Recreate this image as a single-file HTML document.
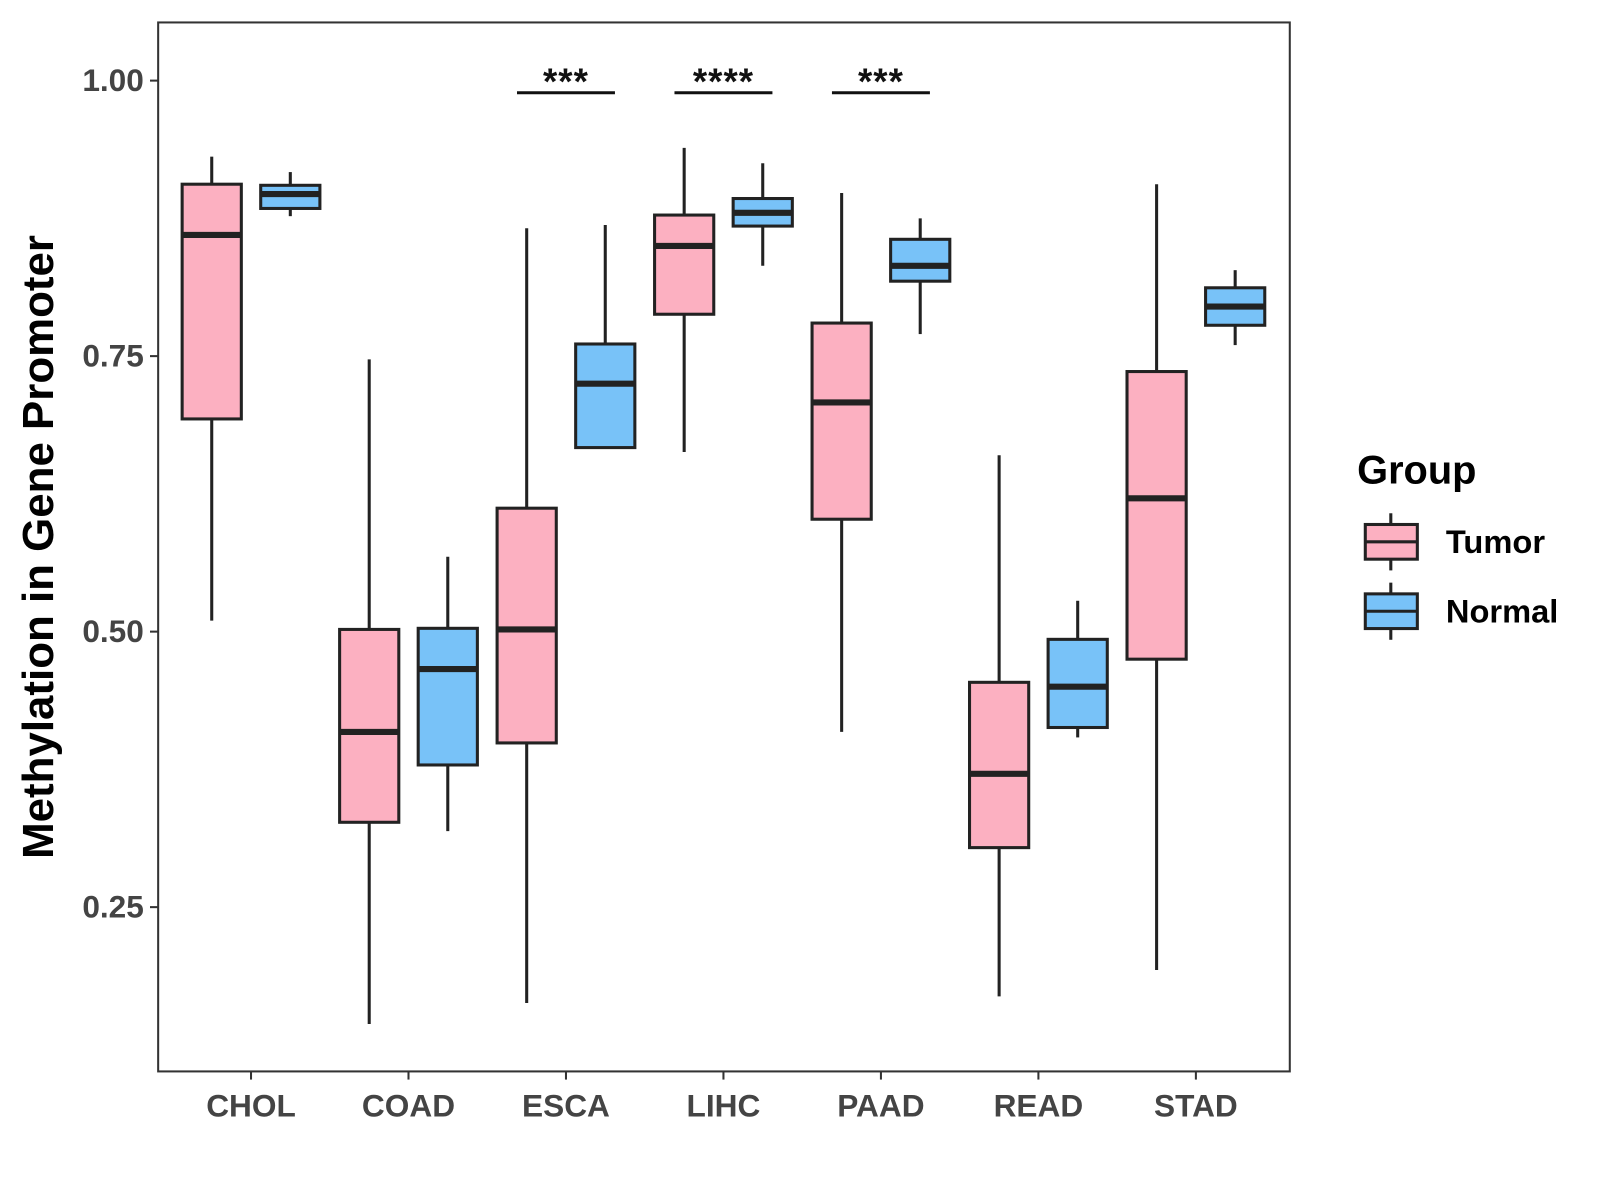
<!DOCTYPE html>
<html><head><meta charset="utf-8"><style>
html,body{margin:0;padding:0;background:#fff;}
svg{display:block;font-family:"Liberation Sans",Arial,sans-serif;}
</style></head><body>
<svg id="chart" width="1600" height="1200" viewBox="0 0 1600 1200" xmlns="http://www.w3.org/2000/svg">
<rect width="1600" height="1200" fill="#fff"/>
<g id="plot" transform="scale(1.0204)"></g>
</svg>
<script>
const categories = ["CHOL","COAD","ESCA","LIHC","PAAD","READ","STAD"];
// [low, q1, median, q3, high]
const tumorStats = [
 [0.510,0.693,0.860,0.906,0.931],
 [0.144,0.327,0.409,0.502,0.747],
 [0.163,0.399,0.502,0.612,0.866],
 [0.663,0.788,0.850,0.878,0.939],
 [0.409,0.602,0.708,0.780,0.898],
 [0.169,0.304,0.371,0.454,0.660],
 [0.193,0.475,0.621,0.736,0.906]
];
const normalStats = [
 [0.877,0.884,0.897,0.905,0.917],
 [0.319,0.379,0.466,0.503,0.568],
 [0.667,0.667,0.725,0.761,0.869],
 [0.832,0.868,0.880,0.893,0.925],
 [0.770,0.818,0.832,0.856,0.875],
 [0.404,0.413,0.450,0.493,0.528],
 [0.760,0.778,0.795,0.812,0.828]
];
const yTicks = [0.25,0.50,0.75,1.00];
const yTickLabels = ["0.25","0.50","0.75","1.00"];
const sigCategories = ["ESCA","LIHC","PAAD"];
const sigLabels = ["***","****","***"];
const sigLevel = 0.989;

const NS="http://www.w3.org/2000/svg";
const g=document.getElementById('plot');
const L=155,R=1264,T=22,B=1050;
const y=v=>79+(1-v)*1080;
const x=i=>246+i*154.33;
function el(tag,attrs,parent){const e=document.createElementNS(NS,tag);for(const k in attrs)e.setAttribute(k,attrs[k]);(parent||g).appendChild(e);return e;}

const panel=el('rect',{x:L,y:T,width:R-L,height:B-T,fill:'none',stroke:'#333','stroke-width':2});



yTicks.forEach((t,i)=>{
  const tk=el('line',{x1:L-8,x2:L,y1:y(t),y2:y(t),stroke:'#333','stroke-width':2});
  
  
  const tx=el('text',{x:L-14,y:y(t)+10,'text-anchor':'end','font-size':31,'font-weight':'bold',fill:'#444'});
  tx.textContent=yTickLabels[i];
  
  
});
categories.forEach((c,i)=>{
  const tk=el('line',{x1:x(i),x2:x(i),y1:B,y2:B+8,stroke:'#333','stroke-width':2});
  
  
  const tx=el('text',{x:x(i),y:B+44,'text-anchor':'middle','font-size':31,'font-weight':'bold',fill:'#444'});
  tx.textContent=c;
  
  
});

function box(cx,s,fill,name){
  const grp=el('g',{});
  
  
  const w=58;
  el('line',{x1:cx,x2:cx,y1:y(s[4]),y2:y(s[3]),stroke:'#222','stroke-width':3},grp);
  el('line',{x1:cx,x2:cx,y1:y(s[1]),y2:y(s[0]),stroke:'#222','stroke-width':3},grp);
  el('rect',{x:cx-w/2,y:y(s[3]),width:w,height:Math.max(y(s[1])-y(s[3]),0.1),fill:fill,stroke:'#222','stroke-width':3},grp);
  el('line',{x1:cx-w/2,x2:cx+w/2,y1:y(s[2]),y2:y(s[2]),stroke:'#222','stroke-width':6},grp);
}
categories.forEach((c,i)=>{
  box(x(i)-38.5,tumorStats[i],'#FCB0C1','box-tumor-'+c.toLowerCase());
  box(x(i)+38.5,normalStats[i],'#78C2F8','box-normal-'+c.toLowerCase());
});

sigCategories.forEach((c,j)=>{
  const i=categories.indexOf(c);
  const ln=el('line',{x1:x(i)-48,x2:x(i)+48,y1:y(sigLevel),y2:y(sigLevel),stroke:'#111','stroke-width':3});
  
  
  const tx=el('text',{x:x(i),y:y(sigLevel)+1,'text-anchor':'middle','font-size':36,'font-weight':'bold','letter-spacing':1,fill:'#111'});
  tx.textContent=sigLabels[j];
  
  
});

const yt=el('text',{x:0,y:0,transform:'translate(52,536) rotate(-90)','text-anchor':'middle','font-size':43,'font-weight':'bold',fill:'#000'});
yt.textContent='Methylation in Gene Promoter';



const lt=el('text',{x:1330,y:474,'font-size':39,'font-weight':'bold',fill:'#000'});
lt.textContent='Group';


[['Tumor','#FCB0C1',531],['Normal','#78C2F8',599]].forEach(([lab,col,cy])=>{
  const grp=el('g',{});
  
  
  el('line',{x1:1363,x2:1363,y1:cy-28,y2:cy+28,stroke:'#222','stroke-width':3},grp);
  el('rect',{x:1338,y:cy-17,width:51,height:34,fill:col,stroke:'#222','stroke-width':3},grp);
  el('line',{x1:1338,x2:1389,y1:cy,y2:cy,stroke:'#222','stroke-width':3},grp);
  const t=el('text',{x:1417,y:cy+11,'font-size':32,'font-weight':'bold',fill:'#000'},grp);
  t.textContent=lab;
});
</script>
</body></html>
